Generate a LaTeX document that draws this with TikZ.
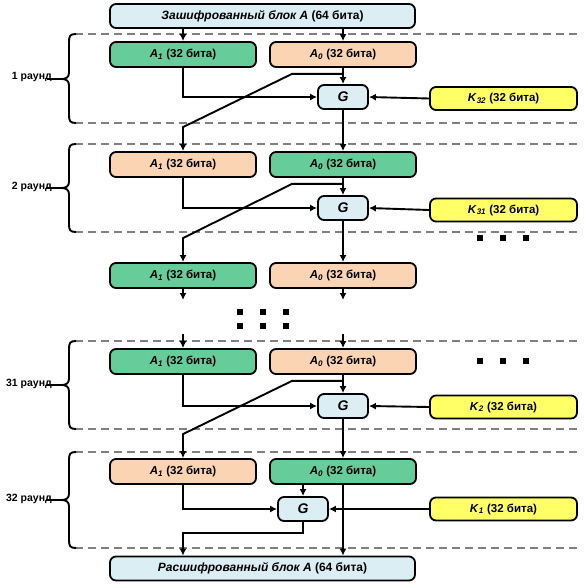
\documentclass[tikz,border=0pt]{standalone}
\usepackage{fontspec}
\setmainfont{Liberation Sans}
\usetikzlibrary{arrows.meta,calc}
\definecolor{cgreen}{HTML}{66CC99}
\definecolor{cpeach}{HTML}{FBD4B4}
\definecolor{cblue}{HTML}{DAEEF3}
\definecolor{cyellow}{HTML}{FFFF66}
\definecolor{cdash}{HTML}{808080}
\newcommand{\Asub}[1]{\textit{A}\textsubscript{\textit{#1}}}
\newcommand{\Ksub}[1]{\textit{K}\textsubscript{\textit{#1}}}
\begin{document}
\begin{tikzpicture}[x=1pt,y=-1pt,
  box/.style={draw=black,line width=1.8pt,rounded corners=6pt,inner sep=0pt,
    minimum height=25pt,font=\fontsize{11.5}{12}\selectfont\bfseries},
  half/.style={box,minimum width=146pt},
  gbox/.style={box,fill=cblue,minimum width=50pt,minimum height=24pt,font=\fontsize{14}{14}\selectfont\bfseries\itshape},
  kbox/.style={box,fill=cyellow,minimum width=147pt,minimum height=23pt},
  wide/.style={box,fill=cblue,minimum width=305pt,minimum height=24pt,font=\fontsize{12}{12}\selectfont\bfseries},
  conn/.style={line width=1.9pt,-{Latex[length=7pt,width=7pt]}},
  sep/.style={draw=cdash,line width=1.9pt,dash pattern=on 8pt off 5pt},
  brace/.style={line width=1.9pt},
  lab/.style={font=\fontsize{10.5}{12}\selectfont\bfseries,inner sep=0pt,anchor=base east},
  dot/.style={fill=black,minimum size=6pt,inner sep=0pt}
]
\useasboundingbox (0,0) rectangle (585,586);

% separators
\foreach \y in {34,123,144,232,341,429,452,548}
  \draw[sep] (75,\y) -- (578,\y);

% braces and labels
\foreach \t/\b/\m/\txt/\nm in {34/123/79/1 раунд/l1,144/232/188/2 раунд/l2,341/429/385/31 раунд/l31,452/548/500/32 раунд/l32}{
  \draw[brace] (76,\t) .. controls (70,\t) and (69,\t+2) .. (69,\t+8) -- (69,\m-6)
     .. controls (69,\m-2) and (66,\m) .. (62,\m)
     .. controls (66,\m) and (69,\m+2) .. (69,\m+6) -- (69,\b-8)
     .. controls (69,\b-2) and (70,\b) .. (76,\b);
  \node[lab] (\nm) at (52,\m+1) {\txt};
  \coordinate (\nm t) at (62,\m);
  \coordinate (\nm s) at (47,\m);
  \draw[brace] (\nm s) -- (\nm t);
}

% top and bottom blocks
\node[wide] (top) at (262.5,16) {\textit{Зашифрованный блок A} (64 бита)};
\node[wide] (bot) at (262.5,568.5) {\textit{Расшифрованный блок A} (64 бита)};

% round 1
\node[half,fill=cgreen] (a1r1) at (183,54.5) {\Asub{1} (32 бита)};
\node[half,fill=cpeach] (a0r1) at (343,54.5) {\Asub{0} (32 бита)};
\node[gbox] (g1) at (343,97) {G};
\node[kbox] (k1) at (503.5,98.5) {\Ksub{32} (32 бита)};

% round 2
\node[half,fill=cpeach] (a1r2) at (183,164.5) {\Asub{1} (32 бита)};
\node[half,fill=cgreen] (a0r2) at (343,164.5) {\Asub{0} (32 бита)};
\node[gbox] (g2) at (343,208) {G};
\node[kbox] (k2) at (503.5,210) {\Ksub{31} (32 бита)};

% after round 2
\node[half,fill=cgreen] (a1r3) at (183,275.5) {\Asub{1} (32 бита)};
\node[half,fill=cpeach] (a0r3) at (343,275.5) {\Asub{0} (32 бита)};

% round 31
\node[half,fill=cgreen] (a1r31) at (183,361.5) {\Asub{1} (32 бита)};
\node[half,fill=cpeach] (a0r31) at (343,361.5) {\Asub{0} (32 бита)};
\node[gbox] (g31) at (343,406) {G};
\node[kbox] (k31) at (503.5,407) {\Ksub{2} (32 бита)};

% round 32
\node[half,fill=cpeach] (a1r32) at (183,471.5) {\Asub{1} (32 бита)};
\node[half,fill=cgreen] (a0r32) at (343,471.5) {\Asub{0} (32 бита)};
\node[gbox] (g32) at (303,509) {G};
\node[kbox] (k32) at (503.5,509) {\Ksub{1} (32 бита)};

% dots
\foreach \x/\y/\n in {240/312/d1,263/312/d2,286/312/d3,240/326/d4,263/326/d5,286/326/d6,
   480/238/e1,503/238/e2,526/238/e3,480/361/f1,503/361/f2,526/361/f3}
  \node[dot] (\n) at (\x,\y) {};

% connectors: top
\draw[conn] (top.south -| a1r1) -- (a1r1);
\draw[conn] (top.south -| a0r1) -- (a0r1);

% generic round connectors
\foreach \ai/\ao/\g/\k/\nx/\nxo in {a1r1/a0r1/g1/k1/a1r2/a0r2, a1r2/a0r2/g2/k2/a1r3/a0r3, a1r31/a0r31/g31/k31/a1r32/a0r32}{
  \draw[conn] (\ai.south) |- (\g.west);
  \draw[conn] (\ao.south) -- (\g.north);
  \draw[conn] (\k.west) -- (\g.east);
  \draw[conn] (\g.south) -- (\nxo.north);
  \draw[conn] ($(\ao.south)+(0,6)$) -- ++(-51,0) -- ($(\nx.north)+(0,-24)$) -- (\nx.north);
}

% after round 2
\coordinate (o1) at (183,300); \coordinate (o2) at (343,300);
\draw[conn] (a1r3.south) -- (o1);
\draw[conn] (a0r3.south) -- (o2);
\coordinate (i1) at (183,334); \coordinate (i2) at (343,334);
\draw[conn] (i1) -- (a1r31.north);
\draw[conn] (i2) -- (a0r31.north);

% round 32
\draw[conn] (a0r32.south -| g32) -- (g32.north);
\draw[conn] (a0r32.south) -- (bot.north -| a0r32.south);
\draw[conn] (a1r32.south) |- (g32.west);
\draw[conn] (k32.west) -- (g32.east);
\coordinate (b1) at (303,533);
\draw[conn] (g32.south) -- (b1) -| (bot.north -| a1r32.south);
\end{tikzpicture}
\end{document}
